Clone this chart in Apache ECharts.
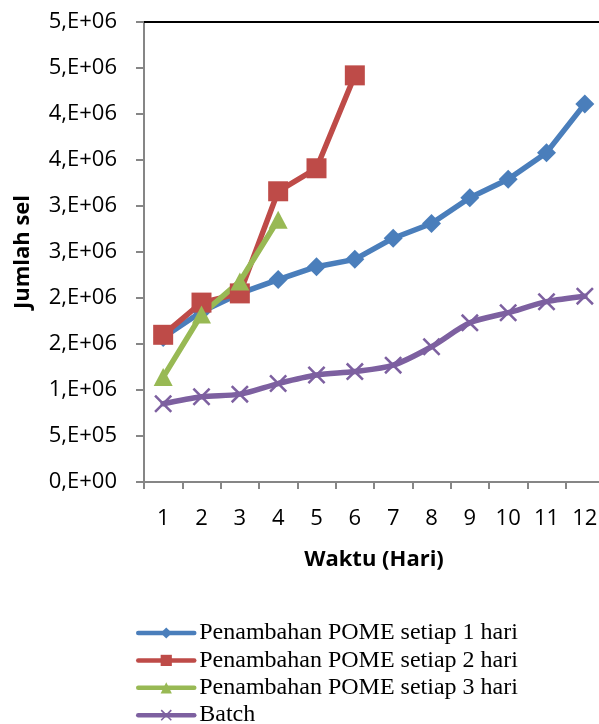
<!DOCTYPE html>
<html>
<head>
<meta charset="utf-8">
<script src="https://cdn.jsdelivr.net/npm/echarts@6/dist/echarts.min.js"></script>
<style>html,body{margin:0;padding:0;background:#fff;overflow:hidden}#c{width:610px;height:724px}</style>
</head>
<body>
<div id="c"></div>
<script>
const days = ['1','2','3','4','5','6','7','8','9','10','11','12'];
const pome1 = [1570000, 1850000, 2050000, 2200000, 2340000, 2420000, 2650000, 2810000, 3090000, 3290000, 3580000, 4110000];
const pome2 = [1600000, 1950000, 2050000, 3160000, 3410000, 4420000];
const pome3 = [1140000, 1820000, 2180000, 2850000];
const batch = [850000, 927000, 955000, 1070000, 1163000, 1200000, 1270000, 1470000, 1730000, 1840000, 1960000, 2020000];
const yTickLabels = ['0,E+00','5,E+05','1,E+06','2,E+06','2,E+06','3,E+06','3,E+06','4,E+06','4,E+06','5,E+06','5,E+06'];
const seriesNames = ['Penambahan POME setiap 1 hari','Penambahan POME setiap 2 hari','Penambahan POME setiap 3 hari','Batch'];
const colors = ['#4A7EBB','#BE4B48','#98B954','#7D60A0'];

const xPath = 'path://M0,2L2,0L10,8L18,0L20,2L12,10L20,18L18,20L10,12L2,20L0,18L8,10Z';
const axisFont = 'Open Sans';

const chart = echarts.init(document.getElementById('c'), null, {renderer: 'canvas'});
function mk(i, data, symbol, size, extra) {
  return Object.assign({
    name: seriesNames[i], type: 'line', data: data,
    symbol: symbol, symbolSize: size,
    lineStyle: {width: 5.5, color: colors[i], cap: 'round', join: 'round'},
    itemStyle: {color: colors[i]},
    emphasis: {disabled: true},
    animation: false
  }, extra || {});
}
chart.setOption({
  animation: false,
  color: colors,
  grid: {left: 144, top: 22, width: 460, bottom: 242, containLabel: false},
  legend: {
    orient: 'vertical', left: 136, top: 621, height: 200, padding: 0,
    itemWidth: 56, itemHeight: 14, itemGap: 3.4,
    lineStyle: {width: 4.5},
    textStyle: {fontFamily: 'Liberation Serif', fontSize: 24, color: '#000', lineHeight: 24},
    data: seriesNames
  },
  xAxis: [{
    type: 'category', data: days, position: 'bottom',
    axisLine: {lineStyle: {color: '#868686', width: 2}},
    axisTick: {show: true, length: 7, lineStyle: {color: '#868686', width: 2}},
    axisLabel: {fontFamily: axisFont, fontSize: 22, color: '#000', margin: 26, interval: 0},
    name: 'Waktu (Hari)', nameLocation: 'middle', nameGap: 67,
    nameTextStyle: {fontFamily: axisFont, fontSize: 22, fontWeight: 'bold', color: '#000'},
    splitLine: {show: false}
  }, {
    type: 'category', data: days, position: 'top',
    axisLine: {lineStyle: {color: '#000', width: 2}},
    axisTick: {show: false}, axisLabel: {show: false}, splitLine: {show: false}
  }],
  yAxis: {
    type: 'value', min: 0, max: 5000000, interval: 500000,
    axisLine: {show: true, lineStyle: {color: '#868686', width: 2}},
    axisTick: {show: true, length: 8, lineStyle: {color: '#868686', width: 2}},
    axisLabel: {
      fontFamily: axisFont, fontSize: 22, color: '#000', margin: 27,
      formatter: function (v) { return yTickLabels[Math.round(v / 500000)]; }
    },
    splitLine: {show: false},
    name: 'Jumlah sel', nameLocation: 'middle', nameGap: 110,
    nameTextStyle: {fontFamily: axisFont, fontSize: 22, fontWeight: 'bold', color: '#000'}
  },
  series: [
    mk(0, pome1, 'diamond', 19),
    mk(1, pome2, 'rect', 20),
    mk(2, pome3, 'triangle', [19, 18]),
    mk(3, batch, xPath, 18, {smooth: 0.3})
  ]
});
</script>
</body>
</html>
